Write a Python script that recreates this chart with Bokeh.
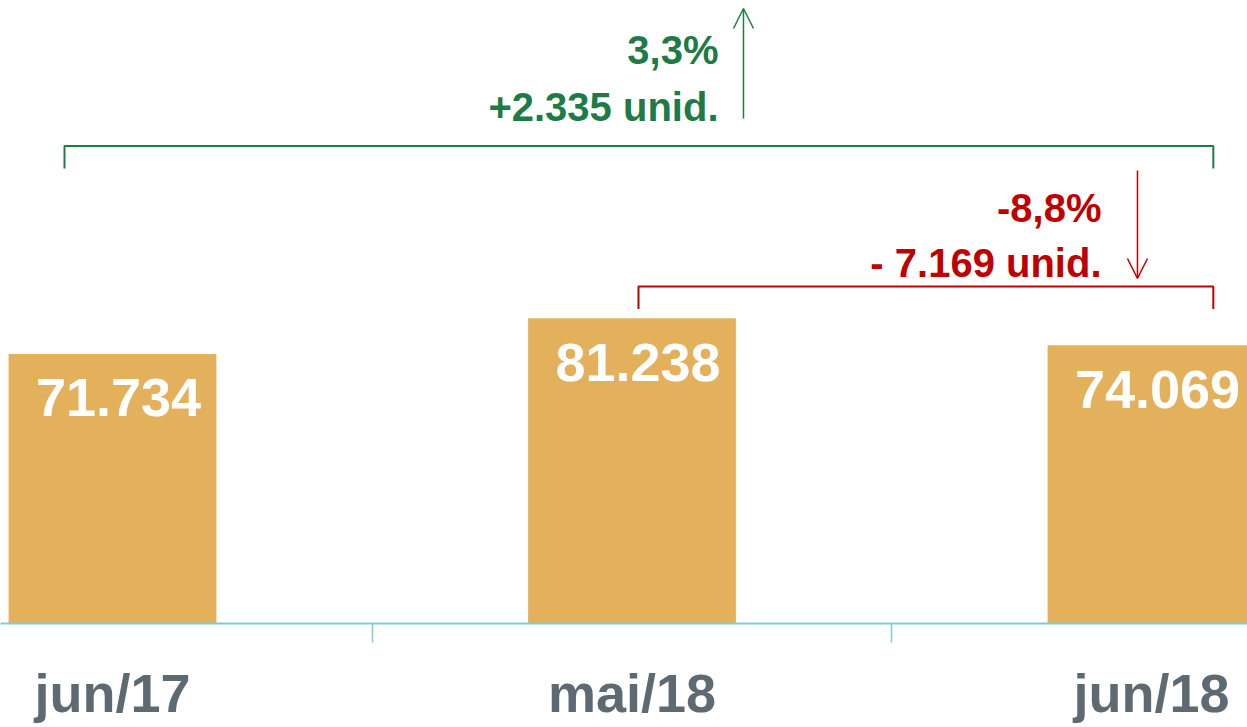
from bokeh.plotting import figure
from bokeh.models import Range1d, FixedTicker, Arrow, OpenHead, ColumnDataSource
from bokeh.core.properties import value
from bokeh.embed import file_html
from bokeh.resources import INLINE

# ---------------- data ----------------
categories = ["jun/17", "mai/18", "jun/18"]
values = [71734, 81238, 74069]
value_labels = ["71.734", "81.238", "74.069"]

chg_pct = ["3,3%", "-8,8%"]
chg_units = ["+2.335 unid.", "- 7.169 unid."]
chg_colors = ["#1E7B45", "#C00000"]

# ---------------- layout / style ----------------
BAR_COLOR = "#E3B05C"
AXIS_COLOR = "#7ECBDA"
LABEL_COLOR = "#5E6A71"
FONT = "Liberation Sans"
YMAX = 165820

bracket_left = [-0.0924, 1.0125]
bracket_right = [2.119, 2.119]
bracket_y = [127100, 89700]
bracket_drop = 6000
arrow_x = [1.2146, 1.973]
arrow_y0 = [134400, 120570]
arrow_y1 = [163700, 91830]
text_right = [1.1665, 1.9038]
text_y_pct = [148520, 106730]
text_y_units = [133350, 91830]

xs = list(range(len(categories)))

p = figure(width=1247, height=727,
           x_range=Range1d(-0.2156, 2.1848), y_range=Range1d(0, YMAX),
           output_backend="svg", toolbar_location=None, y_axis_location=None,
           min_border_left=0, min_border_right=0, min_border_top=0,
           min_border_bottom=104)
p.outline_line_color = None
p.grid.visible = False
p.background_fill_color = "white"

src = ColumnDataSource(dict(x=xs, top=values, label=value_labels))
p.vbar(x="x", top="top", width=0.4, bottom=0, source=src,
       fill_color=BAR_COLOR, line_color=None)
p.text(x="x", y="top", text="label", source=src, x_offset=6, y_offset=44,
       text_align="center", text_baseline="alphabetic",
       text_font=value(FONT), text_font_style="bold",
       text_font_size="54px", text_color="white")

# x axis
ax = p.xaxis[0]
ax.ticker = FixedTicker(ticks=xs, minor_ticks=[i + 0.5 for i in xs[:-1]])
ax.major_label_overrides = {i: c for i, c in zip(xs, categories)}
ax.axis_line_color = AXIS_COLOR
ax.axis_line_width = 2
ax.major_tick_line_color = None
ax.major_tick_out = 0
ax.major_tick_in = 0
ax.minor_tick_line_color = AXIS_COLOR
ax.minor_tick_line_width = 1.5
ax.minor_tick_out = 19
ax.minor_tick_in = 0
ax.major_label_standoff = 20
ax.major_label_text_font = FONT
ax.major_label_text_font_style = "bold"
ax.major_label_text_font_size = "54px"
ax.major_label_text_color = LABEL_COLOR

# change annotations
for k in range(len(chg_pct)):
    col = chg_colors[k]
    p.line(x=[bracket_left[k], bracket_left[k], bracket_right[k], bracket_right[k]],
           y=[bracket_y[k] - bracket_drop, bracket_y[k], bracket_y[k], bracket_y[k] - bracket_drop],
           line_color=col, line_width=2)
    p.add_layout(Arrow(x_start=arrow_x[k], y_start=arrow_y0[k],
                       x_end=arrow_x[k], y_end=arrow_y1[k],
                       line_color=col, line_width=1.5,
                       end=OpenHead(size=20, line_color=col, line_width=1.5)))
    p.text(x=[text_right[k], text_right[k]], y=[text_y_pct[k], text_y_units[k]],
           text=[chg_pct[k], chg_units[k]], text_align="right", y_offset=-15,
           text_baseline="alphabetic", text_font=value(FONT),
           text_font_style="bold", text_font_size="40px", text_color=col)

open("out.html", "w").write(file_html(p, INLINE))
